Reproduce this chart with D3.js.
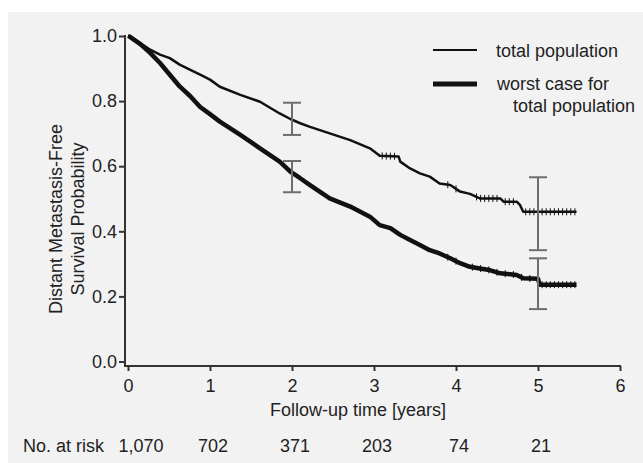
<!DOCTYPE html>
<html>
<head>
<meta charset="utf-8">
<script src="https://cdn.jsdelivr.net/npm/d3@7"></script>
<style>
  body { margin: 0; background: #fff; }
  svg text { font-family: "Liberation Sans", Arial, sans-serif; fill: #222; }
</style>
</head>
<body>
<div id="chart"></div>
<script>
// time in years, survival probability
let totalTimes = [0, 0.02, 0.15, 0.27, 0.39, 0.51, 0.63, 0.76, 0.88, 1.0, 1.12, 1.37, 1.61, 1.85, 1.98,
    2.1, 2.22, 2.46, 2.71, 2.95, 3.07, 3.3, 3.32, 3.44, 3.56, 3.68, 3.8, 3.93, 4.05, 4.17, 4.29,
    4.54, 4.58, 4.74, 4.78, 4.82, 5.47];
let totalValues = [1.0, 0.999, 0.978, 0.958, 0.943, 0.932, 0.912, 0.896, 0.881, 0.866, 0.844, 0.819, 0.798, 0.762, 0.745,
    0.732, 0.721, 0.701, 0.680, 0.655, 0.632, 0.630, 0.614, 0.593, 0.578, 0.568, 0.547, 0.542, 0.522, 0.515, 0.501,
    0.501, 0.491, 0.491, 0.481, 0.460, 0.460];

let worstTimes = [0, 0.02, 0.15, 0.27, 0.39, 0.51, 0.63, 0.76, 0.88, 1.0, 1.12, 1.37, 1.61, 1.85, 1.98,
    2.1, 2.22, 2.46, 2.71, 2.95, 3.07, 3.2, 3.32, 3.44, 3.56, 3.68, 3.8, 3.93, 4.05, 4.17, 4.29,
    4.41, 4.54, 4.74, 4.82, 5.0, 5.02, 5.47];
let worstValues = [1.0, 0.998, 0.975, 0.948, 0.917, 0.881, 0.845, 0.815, 0.782, 0.760, 0.737, 0.696, 0.655, 0.614, 0.583,
    0.563, 0.542, 0.501, 0.476, 0.445, 0.419, 0.410, 0.389, 0.373, 0.358, 0.342, 0.332, 0.317, 0.302, 0.291, 0.286,
    0.281, 0.271, 0.266, 0.256, 0.254, 0.236, 0.236];

// censoring marks
let totalCensored = [3.1, 3.15, 3.2, 3.25, 3.9, 4.0, 4.25, 4.3, 4.35, 4.4, 4.45, 4.5, 4.6, 4.65, 4.7,
    4.85, 4.9, 4.95, 5.0, 5.05, 5.1, 5.15, 5.2, 5.25, 5.3, 5.35, 5.4, 5.45];
let worstCensored = [3.9, 4.0, 4.2, 4.3, 4.4, 4.5, 4.6, 4.7, 4.8, 4.9, 5.05, 5.1, 5.15, 5.2, 5.25, 5.3, 5.35, 5.4, 5.45];

// confidence intervals at 2 and 5 years
let ciTimes = [2, 2, 5, 5];
let ciLow = [0.696, 0.520, 0.342, 0.161];
let ciHigh = [0.795, 0.616, 0.566, 0.317];

let xTicks = [0, 1, 2, 3, 4, 5, 6];
let yTicks = [0, 0.2, 0.4, 0.6, 0.8, 1.0];
let riskTimes = [0, 1, 2, 3, 4, 5];
let riskLabels = ["1,070", "702", "371", "203", "74", "21"];
let legendLabels = ["total population", ["worst case for", "total population"]];

let width = 643, height = 463;
let fontSize = "18px";

let svg = d3.select("#chart").append("svg")
    .attr("width", width)
    .attr("height", height);

svg.append("rect")
    .attr("x", 8).attr("y", 12)
    .attr("width", width - 8).attr("height", height - 12)
    .attr("fill", "#f2f2f2");

let x = d3.scaleLinear().domain([0, 6]).range([128, 620]);
let y = d3.scaleLinear().domain([0, 1]).range([361.5, 36]);

let axisX0 = 125, axisY0 = 366;

// axes
let gY = svg.append("g")
    .attr("transform", "translate(" + axisX0 + ",0)")
    .call(d3.axisLeft(y).tickValues(yTicks).tickSize(6).tickPadding(2).tickFormat(d3.format(".1f")));
let gX = svg.append("g")
    .attr("transform", "translate(0," + axisY0 + ")")
    .call(d3.axisBottom(x).tickValues(xTicks).tickSize(5).tickPadding(8).tickFormat(d3.format("d")));

[gX, gY].forEach(function(g) {
    g.select(".domain").remove();
    g.selectAll("line").attr("stroke", "#333").attr("stroke-width", 2);
    g.selectAll("text").style("font-size", fontSize).attr("fill", "#333");
});

svg.append("line")
    .attr("x1", axisX0).attr("x2", axisX0)
    .attr("y1", y(1) - 1).attr("y2", axisY0 + 1)
    .attr("stroke", "#333").attr("stroke-width", 2);
svg.append("line")
    .attr("x1", axisX0 - 1).attr("x2", x(6) + 1)
    .attr("y1", axisY0).attr("y2", axisY0)
    .attr("stroke", "#333").attr("stroke-width", 2);

// axis titles
let yTitle = svg.append("text")
    .attr("transform", "translate(62,219) rotate(-90)")
    .attr("text-anchor", "middle")
    .style("font-size", fontSize);
yTitle.append("tspan").attr("x", 0).attr("dy", 0).text("Distant Metastasis-Free");
yTitle.append("tspan").attr("x", 0).attr("dy", 22).text("Survival Probability");

svg.append("text")
    .attr("x", 358).attr("y", 416)
    .attr("text-anchor", "middle")
    .style("font-size", fontSize)
    .text("Follow-up time [years]");

// number at risk
svg.append("text")
    .attr("x", 23).attr("y", 452)
    .style("font-size", fontSize)
    .text("No. at risk");
svg.selectAll(".risk")
    .data(riskTimes)
    .enter().append("text")
    .attr("class", "risk")
    .attr("x", function(d, i) { return x(d) + (i === 0 ? 13 : 3); })
    .attr("y", 452)
    .attr("text-anchor", "middle")
    .style("font-size", fontSize)
    .text(function(d, i) { return riskLabels[i]; });

// curves
let line = d3.line()
    .x(function(d) { return x(d[0]); })
    .y(function(d) { return y(d[1]); });

let series = [
    {times: totalTimes, values: totalValues, censored: totalCensored, width: 2.5},
    {times: worstTimes, values: worstValues, censored: worstCensored, width: 4.5}
];

series.forEach(function(s) {
    let pts = s.times.map(function(t, i) { return [t, s.values[i]]; });
    svg.append("path")
        .attr("d", line(pts))
        .attr("fill", "none")
        .attr("stroke", "#111")
        .attr("stroke-width", s.width)
        .attr("stroke-linejoin", "round");

    let valueAt = function(t) {
        let i = d3.bisectRight(s.times, t) - 1;
        if (i >= s.times.length - 1) return s.values[s.values.length - 1];
        let t0 = s.times[i], t1 = s.times[i + 1];
        return s.values[i] + (s.values[i + 1] - s.values[i]) * (t - t0) / (t1 - t0);
    };
    svg.selectAll(null)
        .data(s.censored)
        .enter().append("line")
        .attr("x1", function(d) { return x(d); })
        .attr("x2", function(d) { return x(d); })
        .attr("y1", function(d) { return y(valueAt(d)) - 3.5; })
        .attr("y2", function(d) { return y(valueAt(d)) + 3.5; })
        .attr("stroke", "#111")
        .attr("stroke-width", 1);
});

// confidence interval bars
let ci = svg.append("g").attr("stroke", "#6e6e6e").attr("stroke-width", 2);
ciTimes.forEach(function(t, i) {
    ci.append("line")
        .attr("x1", x(t)).attr("x2", x(t))
        .attr("y1", y(ciHigh[i])).attr("y2", y(ciLow[i]));
    [ciHigh[i], ciLow[i]].forEach(function(v) {
        ci.append("line")
            .attr("x1", x(t) - 9).attr("x2", x(t) + 9)
            .attr("y1", y(v)).attr("y2", y(v));
    });
});

// legend
let legend = svg.append("g");
legend.append("line")
    .attr("x1", 433).attr("x2", 477).attr("y1", 50).attr("y2", 50)
    .attr("stroke", "#111").attr("stroke-width", 2);
legend.append("text")
    .attr("x", 496).attr("y", 57)
    .style("font-size", fontSize)
    .text(legendLabels[0]);
legend.append("line")
    .attr("x1", 433).attr("x2", 477).attr("y1", 84).attr("y2", 84)
    .attr("stroke", "#111").attr("stroke-width", 5);
legend.append("text")
    .attr("x", 497).attr("y", 90)
    .style("font-size", fontSize)
    .text(legendLabels[1][0]);
legend.append("text")
    .attr("x", 513).attr("y", 112)
    .style("font-size", fontSize)
    .text(legendLabels[1][1]);
</script>
</body>
</html>
